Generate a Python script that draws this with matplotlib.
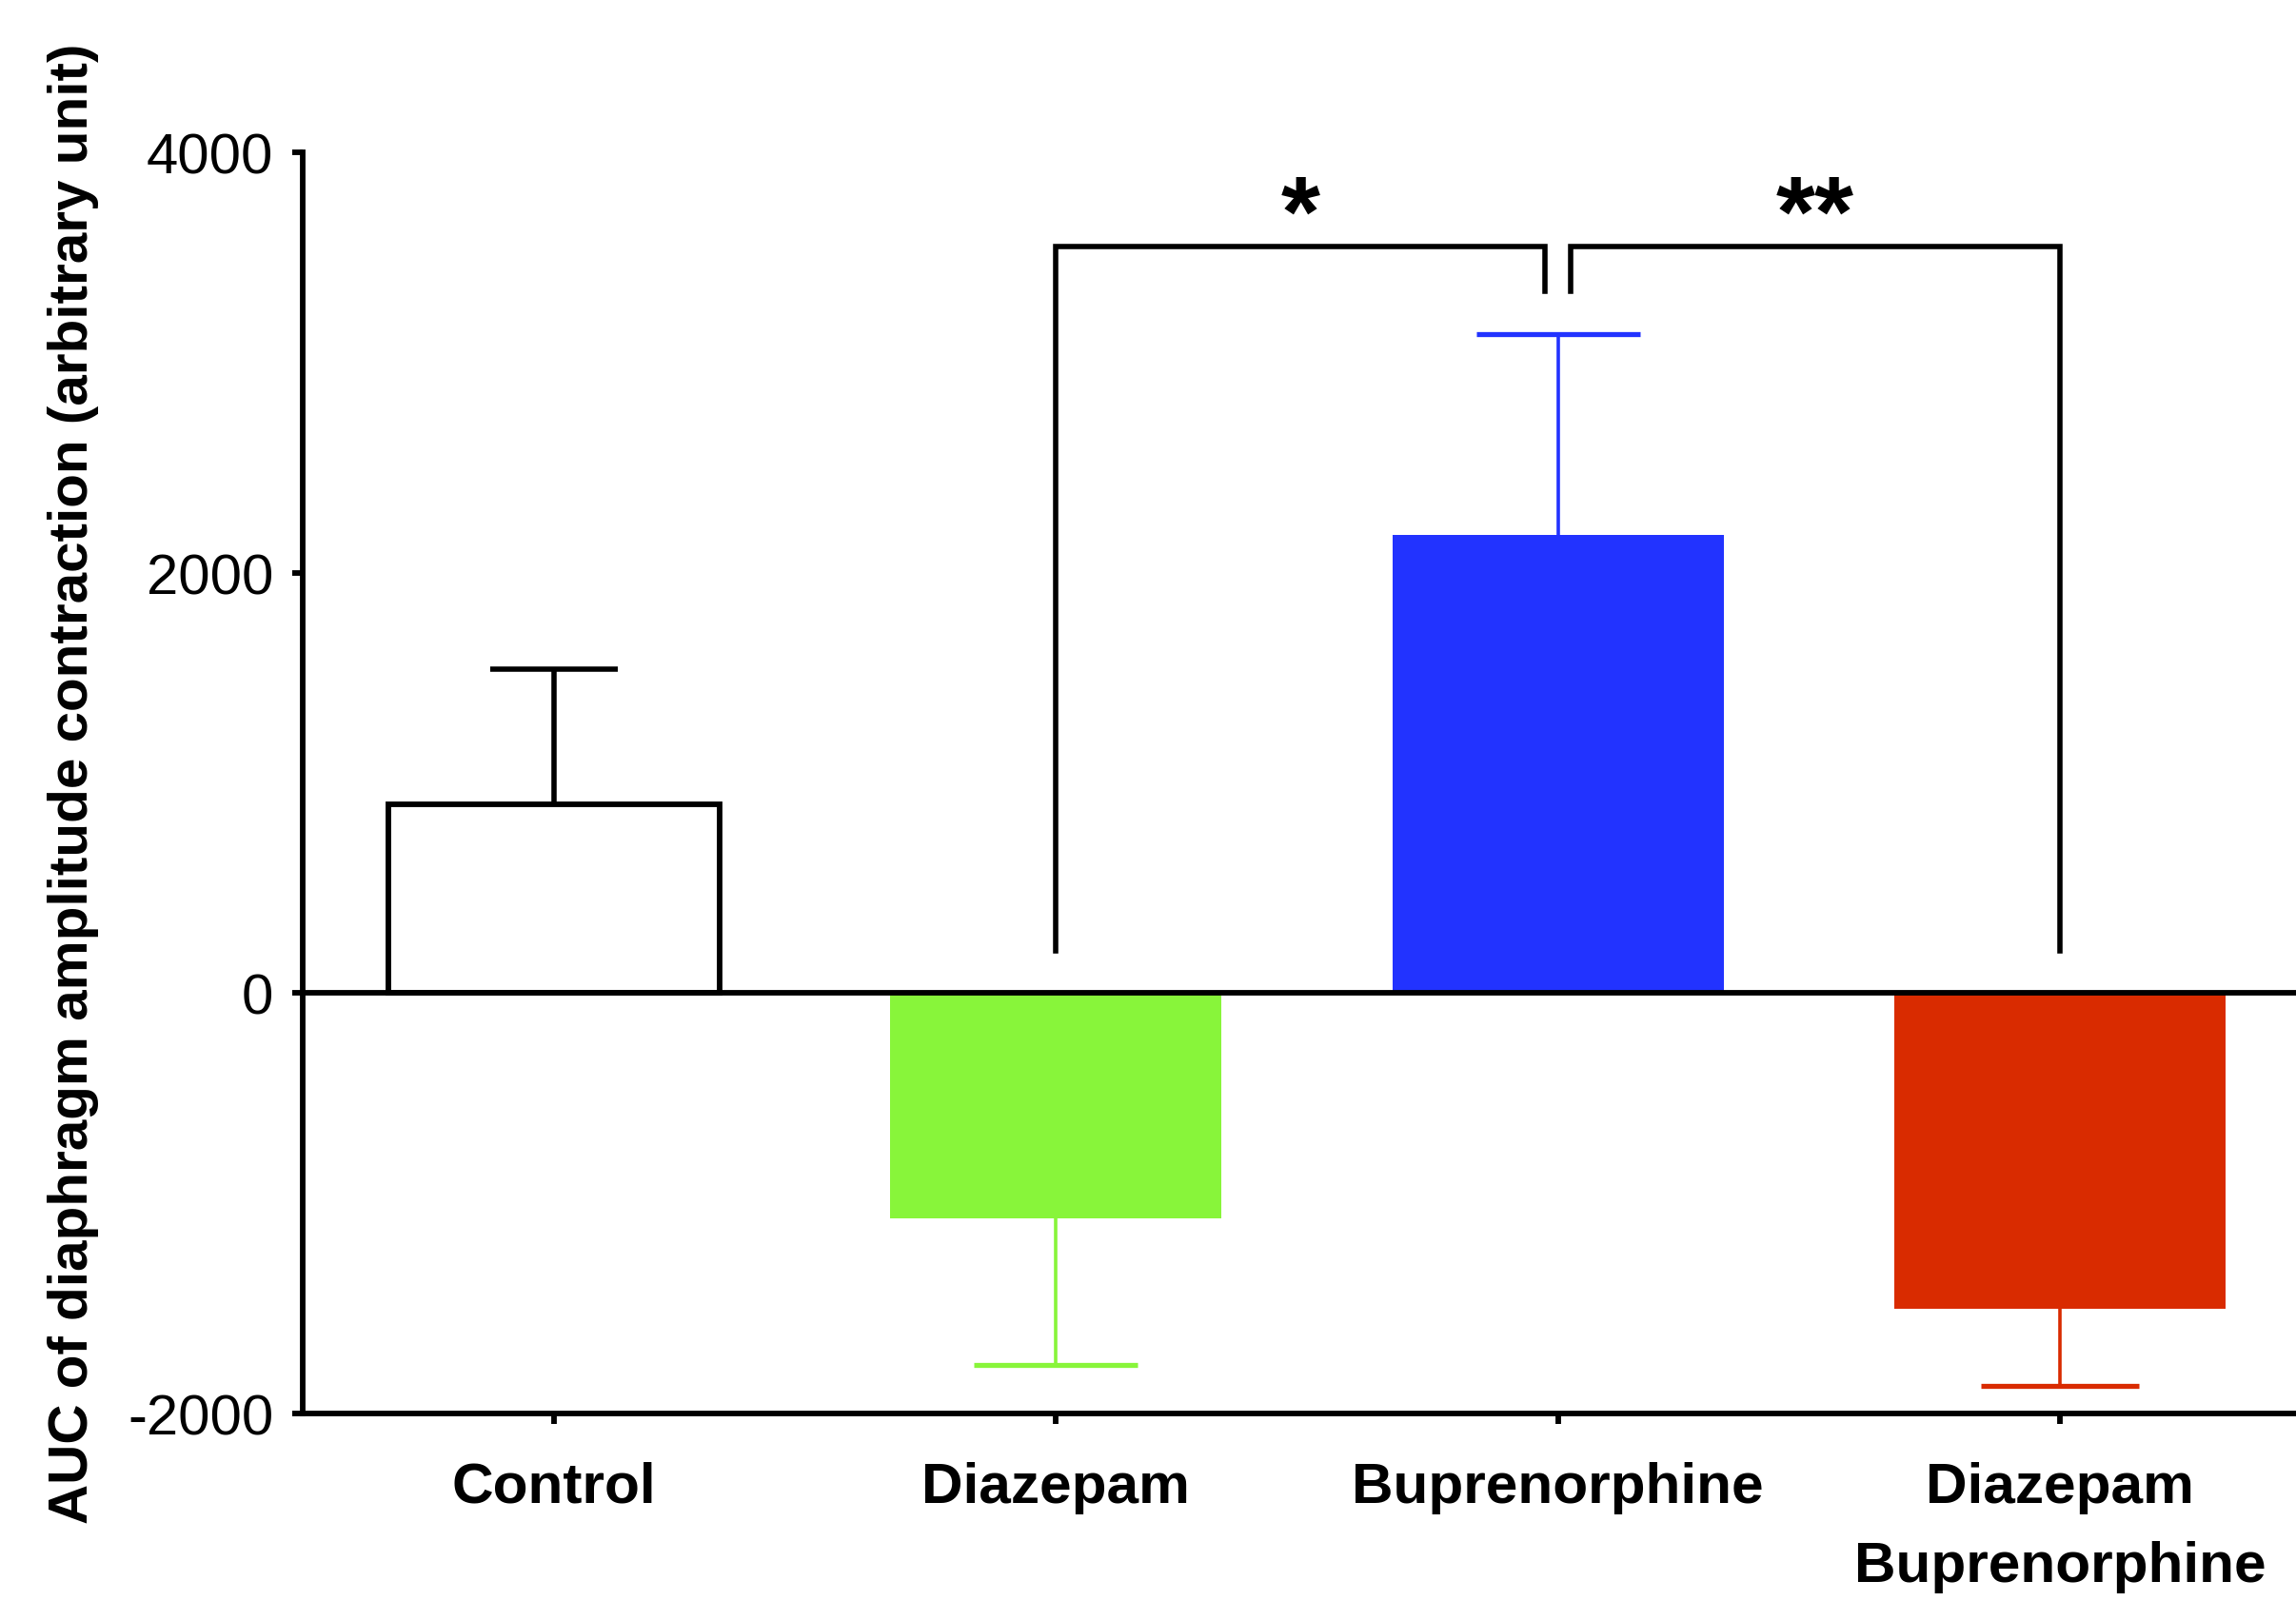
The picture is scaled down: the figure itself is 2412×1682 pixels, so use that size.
import numpy as np
import matplotlib
matplotlib.use("Agg")
import matplotlib.pyplot as plt

# data
groups = ['Control', 'Diazepam', 'Buprenorphine', 'Diazepam\nBuprenorphine']
means = [900, -1070, 2180, -1500]
sem = [640, 700, 955, 370]
bar_colors = ['white', '#88F53A', '#2233FF', '#D92B00']
err_colors = ['black', '#88F53A', '#2233FF', '#D92B00']
cap_sizes = [48, 62, 62, 60]
yticks = [-2000, 0, 2000, 4000]

# significance brackets: (left x, right x, left leg bottom, right leg bottom, label)
brackets = [(1, 1.975, 200, 3340, '*'), (2.025, 3, 3340, 200, '**')]
bracket_top = 3550

plt.rcParams['font.family'] = ['Liberation Sans', 'DejaVu Sans']

fig = plt.figure(figsize=(24.12, 16.83), dpi=100)
ax = fig.add_axes([318 / 2412, 1 - 1486 / 1683, 1 - 318 / 2412, (1486 - 161) / 1683])

x = np.arange(len(groups))
ax.bar(x, means, width=0.66, color=bar_colors,
       edgecolor=['black', 'none', 'none', 'none'], linewidth=4.2, zorder=2)

for i in range(len(groups)):
    if means[i] >= 0:
        yerr = [[0], [sem[i]]]
    else:
        yerr = [[sem[i]], [0]]
    lw = 4.0 if i == 0 else 2.6
    ct = 4.0 if i == 0 else 3.8
    _, caps, _ = ax.errorbar(x[i], means[i], yerr=yerr, fmt='none', ecolor=err_colors[i],
                             elinewidth=lw, capsize=cap_sizes[i], capthick=ct, zorder=1)
    # only keep the cap away from zero
    for c in caps:
        if np.isclose(c.get_ydata()[0], means[i]):
            c.set_visible(False)

ax.axhline(0, color='black', lw=4.2, zorder=3)

for x0, x1, y0, y1, lab in brackets:
    ax.plot([x0, x0, x1, x1], [y0, bracket_top, bracket_top, y1],
            color='black', lw=4.0, clip_on=False, solid_joinstyle='miter')
    ax.text((x0 + x1) / 2, bracket_top + 10, lab, ha='center', va='baseline',
            fontsize=76, fontweight='bold', clip_on=False)

ax.set_xlim(-0.5, 3.47)
ax.set_ylim(-2000, 4000)
ax.set_yticks(yticks)
ax.set_yticklabels([str(t) for t in yticks])
ax.set_xticks(x)
ax.set_xticklabels(groups, fontweight='bold', fontsize=43.5)
for lab in ax.get_xticklabels():
    lab.set_linespacing(1.65)

ax.spines['top'].set_visible(False)
ax.spines['right'].set_visible(False)
ax.spines['left'].set_linewidth(4.2)
ax.spines['bottom'].set_linewidth(4.2)
ax.tick_params(axis='y', length=8, width=4.2, pad=14, labelsize=43)
ax.tick_params(axis='x', length=8, width=4.2, pad=28)

ax.set_ylabel('AUC of diaphragm amplitude contraction (arbitrary unit)',
              fontsize=42, fontweight='bold', va='center')
ax.yaxis.set_label_coords(-0.115, 0.5)

fig.savefig('out.png', dpi=100)
